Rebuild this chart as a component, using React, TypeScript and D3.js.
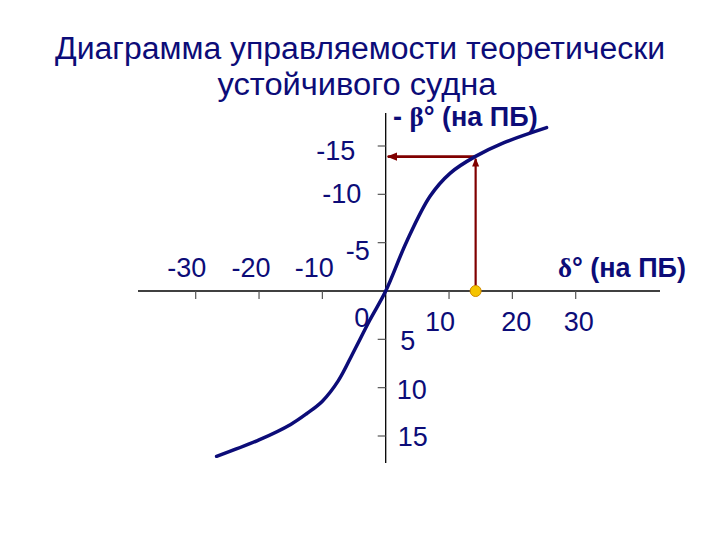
import React from "react";
import * as d3 from "d3";

const deltaValues = [-26.7, -20, -15, -12.5, -10, -7.5, -5, -2.5, 0, 3.3, 7.0, 10.2, 14.1, 18.5, 25.4];
const betaValues = [17.1, 15.4, 13.8, 12.7, 11.4, 9.3, 6.2, 3.0, 0, -5.1, -9.8, -12.2, -13.9, -15.3, -16.9];
const xTicks = [-30, -20, -10, 10, 20, 30];
const yTicks = [-15, -10, -5, 5, 10, 15];
const markerDelta = 14.2;
const markerBeta = -13.9;
const titleLines = ["Диаграмма управляемости теоретически", "устойчивого судна"];
const yAxisLabelParts = ["- ", "β", "° (на ПБ)"];
const xAxisLabelParts = ["δ", "° (на ПБ)"];

// label offsets (layout, px): [dx from tick, baseline dy from axis/tick]
const xLabelOffsets: Record<string, [number, number]> = {
  "-30": [-9, -14], "-20": [-8, -14], "-10": [-8, -14], "10": [-9, 40], "20": [4, 40], "30": [3, 40],
};
const yLabelOffsets: Record<string, [number, number]> = {
  "-15": [-50, 14], "-10": [-44, 9], "-5": [-28, 17], "5": [22, 11], "10": [26, 11], "15": [27, 10],
};

export default function App() {
  const W = 720, H = 540;
  const x = d3.scaleLinear().domain([-30, 30]).range([195.7, 575.7]);
  const y = d3.scaleLinear().domain([-15, 15]).range([146, 436]);
  const x0 = x(0), y0 = y(0);
  const navy = "#0c0c78";
  const red = "#800000";
  const line = d3.line<number>()
    .x((_, i) => x(deltaValues[i]))
    .y((_, i) => y(betaValues[i]))
    .curve(d3.curveCatmullRom.alpha(0.5));
  const mx = x(markerDelta), my = y(markerBeta);
  const greek = "'Liberation Serif', 'DejaVu Serif', serif";
  return (
    <svg width={W} height={H} style={{ position: "absolute", left: 0, top: 0, background: "#fff" }}
      fontFamily="'Liberation Sans', Arial, sans-serif">
      <defs>
        <marker id="ah" viewBox="0 0 10 10" refX="9" refY="5" markerWidth="4" markerHeight="4" orient="auto-start-reverse" markerUnits="strokeWidth">
          <path d="M0,1 L10,5 L0,9 z" fill={red} />
        </marker>
      </defs>
      <text x={360} y={59} textAnchor="middle" fontSize={31} fill={navy} textLength={610} lengthAdjust="spacingAndGlyphs">{titleLines[0]}</text>
      <text x={357} y={95} textAnchor="middle" fontSize={31} fill={navy} textLength={279} lengthAdjust="spacingAndGlyphs">{titleLines[1]}</text>
      {/* axes */}
      <line x1={138} x2={660} y1={y0} y2={y0} stroke="#000" strokeWidth={1.3} />
      <line x1={x0} x2={x0} y1={113} y2={463} stroke="#000" strokeWidth={1.3} />
      {xTicks.map((t) => (
        <line key={"xt" + t} x1={x(t)} x2={x(t)} y1={y0} y2={y0 + 8} stroke="#555" strokeWidth={1.2} />
      ))}
      {yTicks.map((t) => (
        <line key={"yt" + t} x1={x0 - 8} x2={x0} y1={y(t)} y2={y(t)} stroke="#555" strokeWidth={1.2} />
      ))}
      {xTicks.map((t) => {
        const o = xLabelOffsets[String(t)];
        return (
          <text key={"xl" + t} x={x(t) + o[0]} y={y0 + o[1]} textAnchor="middle" fontSize={27} fill={navy}>{t}</text>
        );
      })}
      {yTicks.map((t) => {
        const o = yLabelOffsets[String(t)];
        return (
          <text key={"yl" + t} x={x0 + o[0]} y={y(t) + o[1]} textAnchor="middle" fontSize={27} fill={navy}>{t}</text>
        );
      })}
      <text x={x0 - 24} y={y0 + 36} textAnchor="middle" fontSize={27} fill={navy}>0</text>
      <text x={393} y={126} fontSize={27} fontWeight="bold" fill={navy}>
        <tspan>{yAxisLabelParts[0]}</tspan>
        <tspan fontFamily={greek}>{yAxisLabelParts[1]}</tspan>
        <tspan>{yAxisLabelParts[2]}</tspan>
      </text>
      <text x={558} y={277} fontSize={27} fontWeight="bold" fill={navy}>
        <tspan fontFamily={greek}>{xAxisLabelParts[0]}</tspan>
        <tspan>{xAxisLabelParts[1]}</tspan>
      </text>
      {/* red arrows */}
      <line x1={mx} x2={mx} y1={y0 - 4} y2={my + 2} stroke={red} strokeWidth={2.2} markerEnd="url(#ah)" />
      <line x1={mx} x2={x0 + 2} y1={my} y2={my} stroke={red} strokeWidth={2.6} markerEnd="url(#ah)" />
      {/* curve */}
      <path d={line(deltaValues) || ""} fill="none" stroke={navy} strokeWidth={3.5} strokeLinecap="round" />
      <circle cx={mx} cy={y0} r={5.5} fill="#f5c400" stroke="#d08a00" strokeWidth={1} />
    </svg>
  );
}
